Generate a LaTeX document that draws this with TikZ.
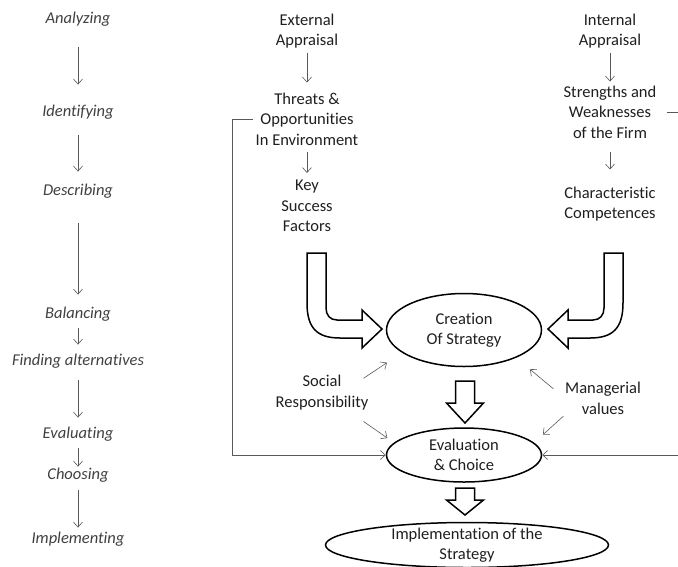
\documentclass[tikz,border=0pt]{standalone}
\usepackage{fontspec}
\setmainfont[Ligatures=NoCommon]{Carlito}
\usetikzlibrary{shapes.geometric,arrows.meta}

\tikzset{
  txt/.style={font=\fontsize{16.5}{20.5}\selectfont, text=black!88, align=center, inner sep=0pt},
  stage/.style={txt, font=\fontsize{16.5}{20.5}\selectfont\itshape, text=black!75, text height=11pt, text depth=3.5pt},
  oval/.style={txt, ellipse, draw=black, line width=1.5pt},
  lnk/.style={->, draw=black!65, line width=0.6pt},
  block/.style={draw=black, line width=1.5pt, line join=miter, fill=white}
}

\begin{document}
\begin{tikzpicture}[x=1pt, y=-1pt, >={Straight Barb[length=5pt,width=9pt]}]
  \useasboundingbox (0,0) rectangle (678,566);

  % left column: the steps
  \foreach \n/\t/\y in {an/Analyzing/20, id/Identifying/113, de/Describing/192,
      ba/Balancing/315, fi/Finding alternatives/362, ev/Evaluating/435,
      ch/Choosing/476, im/Implementing/540}
    \node[stage] (\n) at (78,\y) {\t};
  \foreach \a/\b/\s/\e in {an/id/20/21, id/de/15/13, de/ba/24/13, ba/fi/6/10,
      fi/ev/11/10, ev/ch/6/2, ch/im/7/5}
    \draw[lnk, shorten <=\s pt, shorten >=\e pt] (\a) -- (\b);

  % external side
  \node[txt] (extapp) at (307,31) {External\\Appraisal};
  \node[txt] (threats) at (307,119) {Threats \&\\Opportunities\\In Environment};
  \node[txt] (keyfac) at (307,206) {Key\\Success\\Factors};
  \draw[lnk, shorten <=4pt, shorten >=10pt] (extapp) -- (threats);
  \draw[lnk, shorten <=7pt, shorten >=7pt] (threats) -- (keyfac);

  % internal side
  \node[txt] (intapp) at (610,31) {Internal\\Appraisal};
  \node[txt] (strength) at (610,112) {Strengths and\\Weaknesses\\of the Firm};
  \node[txt] (charcomp) at (610,204) {Characteristic\\Competences};
  \draw[lnk, shorten <=4pt, shorten >=4pt] (intapp) -- (strength);
  \draw[lnk, shorten <=14pt, shorten >=17pt] (strength) -- (charcomp);

  % the ovals
  \node[oval, minimum width=155, minimum height=73] (creation) at (464,330) {Creation\\Of Strategy};
  \node[oval, minimum width=155, minimum height=54] (evaluation) at (464,455) {Evaluation\\\& Choice};
  \node[oval, minimum width=283, minimum height=45, inner ysep=-5pt] (implementation) at (467,545) {Implementation of the\\Strategy};

  % block arrows
  \foreach \s in {1,-1}
    \draw[block, shift={(465,0)}, xscale=\s] (-158,253) -- (-158,303)
      .. controls (-158,328) and (-148,338) .. (-125,338) -- (-103,338) -- (-103,348)
      -- (-83,329) -- (-103,310) -- (-103,320) -- (-128,320)
      .. controls (-135,320) and (-139,315) .. (-139,308) -- (-139,253) -- cycle;
  \foreach \t/\b/\p in {381/403/423, 488/500/515}
    \draw[block] (455.5,\t) -- (474.5,\t) -- (474.5,\b) -- (483.5,\b) -- (465,\p)
      -- (446.5,\b) -- (455.5,\b) -- cycle;

  % values acting on the ovals
  \node[txt] (social) at (322,392.5) {Social\\Responsibility};
  \node[txt] (manval) at (603,398.5) {Managerial\\values};
  \draw[lnk, shorten <=-6pt, shorten >=18pt] (social.north east) -- (creation.200);
  \draw[lnk, shorten <=20pt, shorten >=8pt] (social) -- (evaluation.170);
  \draw[lnk, shorten <=15pt, shorten >=18pt] (manval.west) -- (creation.-28);
  \draw[lnk, shorten <=2pt, shorten >=12pt] (manval.south west) -- (evaluation.10);

  % feedback lines
  \draw[lnk, shorten <=3pt] (threats.west) -- ++(-23,0) |- (evaluation.west);
  \draw[lnk, shorten <=10pt] (strength.east) -- ++(40,0) |- (evaluation.east);
\end{tikzpicture}
\end{document}
